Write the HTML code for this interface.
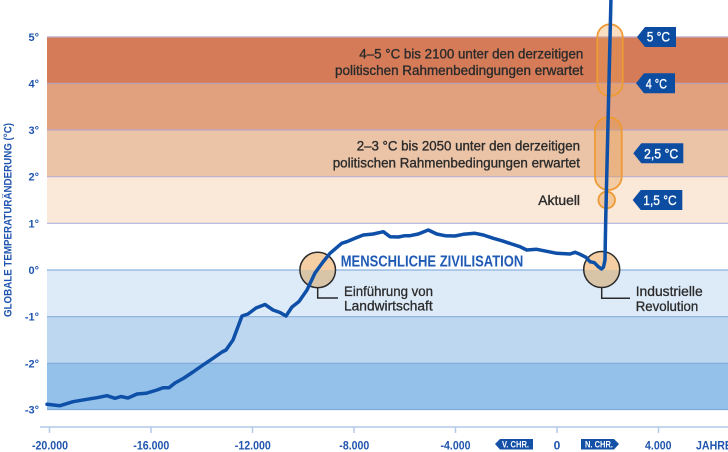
<!DOCTYPE html>
<html><head><meta charset="utf-8"><style>
html,body{margin:0;padding:0;background:#fff;}
svg{display:block;}
text{font-family:"Liberation Sans","DejaVu Sans",sans-serif;}
</style></head><body>
<svg width="728" height="452" viewBox="0 0 728 452" xmlns="http://www.w3.org/2000/svg">
<rect x="0" y="0" width="728" height="452" fill="#fff"/>
<!-- bands -->
<rect x="47" y="37" width="681" height="46.3" fill="#D57B58"/>
<rect x="47" y="83.3" width="681" height="46.7" fill="#E1A07E"/>
<rect x="47" y="130" width="681" height="46.7" fill="#EBC4A7"/>
<rect x="47" y="176.7" width="681" height="46.6" fill="#FAE8D8"/>
<rect x="47" y="270" width="681" height="46.7" fill="#DDEAF8"/>
<rect x="47" y="316.7" width="681" height="46.6" fill="#BDD7F1"/>
<rect x="47" y="363.3" width="681" height="46.2" fill="#94C1E9"/>
<g stroke-width="1.2">
<line x1="47" y1="37" x2="728" y2="37" stroke="#B9A6C8"/>
<line x1="47" y1="83.3" x2="728" y2="83.3" stroke="#B9A0BE"/>
<line x1="47" y1="130" x2="728" y2="130" stroke="#BBA8C8"/>
<line x1="47" y1="176.7" x2="728" y2="176.7" stroke="#BCB0D2"/>
<line x1="47" y1="223.3" x2="728" y2="223.3" stroke="#B0B4DE"/>
<line x1="47" y1="270" x2="728" y2="270" stroke="#8DB2E0"/>
<line x1="47" y1="316.7" x2="728" y2="316.7" stroke="#86AEDD"/>
<line x1="47" y1="363.3" x2="728" y2="363.3" stroke="#7EA9DB"/>
<line x1="47" y1="409.5" x2="728" y2="409.5" stroke="#7EA9DB"/>
</g>
<!-- y labels -->
<g font-size="11" font-weight="bold" fill="#1F55AE" text-anchor="end">
<text x="39" y="41">5°</text>
<text x="39" y="87.5">4°</text>
<text x="39" y="134">3°</text>
<text x="39" y="180.7">2°</text>
<text x="39" y="227.3">1°</text>
<text x="39" y="274">0°</text>
<text x="39" y="320.7">-1°</text>
<text x="39" y="367.3">-2°</text>
<text x="39" y="413.5">-3°</text>
</g>
<text transform="translate(11.5,220) rotate(-90)" text-anchor="middle" font-size="11" font-weight="bold" fill="#1F55AE" textLength="194" lengthAdjust="spacingAndGlyphs">GLOBALE TEMPERATURÄNDERUNG (°C)</text>
<!-- x axis -->
<line x1="40" y1="427" x2="728" y2="427" stroke="#B3C9E8" stroke-width="1.5"/>
<g stroke="#B3C9E8" stroke-width="1.5">
<line x1="49.5" y1="427" x2="49.5" y2="433"/>
<line x1="151" y1="427" x2="151" y2="433"/>
<line x1="252.5" y1="427" x2="252.5" y2="433"/>
<line x1="354" y1="427" x2="354" y2="433"/>
<line x1="455.5" y1="427" x2="455.5" y2="433"/>
<line x1="557" y1="427" x2="557" y2="433"/>
<line x1="658.5" y1="427" x2="658.5" y2="433"/>
</g>
<g font-size="12" font-weight="bold" fill="#1F55AE" text-anchor="middle">
<text x="50" y="449.5" textLength="36" lengthAdjust="spacingAndGlyphs">-20.000</text>
<text x="151.3" y="449.5" textLength="36" lengthAdjust="spacingAndGlyphs">-16.000</text>
<text x="252.8" y="449.5" textLength="36" lengthAdjust="spacingAndGlyphs">-12.000</text>
<text x="354.3" y="449.5" textLength="30" lengthAdjust="spacingAndGlyphs">-8.000</text>
<text x="455.5" y="449.5" textLength="30" lengthAdjust="spacingAndGlyphs">-4.000</text>
<text x="557" y="449.5">0</text>
<text x="658.3" y="449.5" textLength="26.5" lengthAdjust="spacingAndGlyphs">4.000</text>
<text x="696" y="449.5" text-anchor="start" textLength="36" lengthAdjust="spacingAndGlyphs">JAHRE</text>
</g>
<polygon points="495,444 500,439 533,439 533,449.5 500,449.5" fill="#1450A6"/>
<polygon points="581,439 614,439 619,444 614,449.5 581,449.5" fill="#1450A6"/>
<g font-size="9" font-weight="bold" fill="#fff" text-anchor="middle">
<text x="515.5" y="447.5" textLength="27" lengthAdjust="spacingAndGlyphs">V. CHR.</text>
<text x="599" y="447.5" textLength="28" lengthAdjust="spacingAndGlyphs">N. CHR.</text>
</g>
<!-- annotation circles -->
<defs>
<clipPath id="up"><rect x="0" y="0" width="728" height="270"/></clipPath>
<clipPath id="dn"><rect x="0" y="270" width="728" height="182"/></clipPath>
</defs>
<g>
<circle cx="317.7" cy="270" r="17.8" fill="#F5CFA3" clip-path="url(#up)"/>
<circle cx="317.7" cy="270" r="17.8" fill="#D8C5A8" clip-path="url(#dn)"/>
<circle cx="317.7" cy="270" r="17.8" fill="none" stroke="#2A2A2A" stroke-width="1.5"/>
<polyline points="317.7,287.8 317.7,298 338,298" fill="none" stroke="#2A2A2A" stroke-width="1.5"/>
<circle cx="601.7" cy="269.5" r="18" fill="#F5CFA3" clip-path="url(#up)"/>
<circle cx="601.7" cy="269.5" r="18" fill="#D8C5A8" clip-path="url(#dn)"/>
<circle cx="601.7" cy="269.5" r="18" fill="none" stroke="#2A2A2A" stroke-width="1.5"/>
<polyline points="601.7,287.5 601.7,298.3 630,298.3" fill="none" stroke="#2A2A2A" stroke-width="1.5"/>
</g>
<!-- capsules -->
<rect x="597.3" y="24.3" width="25.4" height="71.7" rx="12.7" fill="rgba(238,160,80,0.35)" stroke="#EE9B35" stroke-width="1.8"/>
<rect x="595" y="117.3" width="26.7" height="72.7" rx="13.3" fill="rgba(230,150,70,0.35)" stroke="#EE9B35" stroke-width="1.8"/>
<circle cx="606.7" cy="200" r="8.3" fill="rgba(238,160,80,0.45)" stroke="#EE9B35" stroke-width="1.8"/>
<!-- curve -->
<polyline fill="none" stroke="#0E4FA8" stroke-width="3.5" stroke-linejoin="round" stroke-linecap="round" points="47,404.3 60,405.7 73,401.7 87,399.3 97,397.7 107,395.7 115,398.3 121,396.5 128,398 137,394 146,393.3 157,390 163,387.7 169,387.7 175,383 184,378 193,372 203,365 213,358.3 222,352 226,350 233,340 242,316 248,314 256,308 265,304.5 273,310 280,312.5 286,316 292,307 299,301.5 307,290 315,273 323,262 330,253.3 341.7,243.3 346.7,241.7 355,238.3 363.3,235 373.3,234 383.3,231.7 390,236.7 398.3,237 405,235.7 410,235.7 418.3,234 428.3,230 436.7,234 445,235.7 455,236 463.3,234.3 475,233.3 483.3,235 493.3,238.3 501.7,240.7 511.7,244 520,246.7 526.7,250 536.7,249.3 546.7,251.3 556.7,253.3 570,254 575,252.3 580,254.3 586,257.3 590,261.7 594.3,262.7 598.3,266.7 601.5,269 603.5,267 605,260 605.7,220 611,-3"/>
<!-- tags -->
<g fill="#0C4DA2">
<polygon points="637,37 645,27 676,27 676,47 645,47"/>
<polygon points="636,83.3 644,73.3 675,73.3 675,93.3 644,93.3"/>
<polygon points="633.3,153.3 641.3,143.3 683.3,143.3 683.3,163.3 641.3,163.3"/>
<polygon points="632.7,200 640.7,190 682.3,190 682.3,210 640.7,210"/>
</g>
<g font-size="14" fill="#fff" stroke="#fff" stroke-width="0.35">
<text x="646.7" y="41.7" textLength="23.3" lengthAdjust="spacingAndGlyphs">5 °C</text>
<text x="645.7" y="88.3" textLength="21.3" lengthAdjust="spacingAndGlyphs">4 °C</text>
<text x="644" y="158.3" textLength="34.3" lengthAdjust="spacingAndGlyphs">2,5 °C</text>
<text x="643.3" y="205" textLength="33.4" lengthAdjust="spacingAndGlyphs">1,5 °C</text>
</g>
<!-- band texts -->
<g font-size="14" fill="#2B2B2B" stroke="#2B2B2B" stroke-width="0.35" text-anchor="end">
<text x="583.3" y="58.3" textLength="224" lengthAdjust="spacingAndGlyphs">4–5 °C bis 2100 unter den derzeitigen</text>
<text x="583.3" y="75" textLength="248.3" lengthAdjust="spacingAndGlyphs">politischen Rahmenbedingungen erwartet</text>
<text x="580" y="150.7" textLength="223.3" lengthAdjust="spacingAndGlyphs">2–3 °C bis 2050 unter den derzeitigen</text>
<text x="580" y="167.3" textLength="247.3" lengthAdjust="spacingAndGlyphs">politischen Rahmenbedingungen erwartet</text>
<text x="580" y="205" textLength="41.7" lengthAdjust="spacingAndGlyphs">Aktuell</text>
</g>
<text x="340.7" y="266.5" font-size="16" font-weight="bold" fill="#1F5BB5" textLength="182.6" lengthAdjust="spacingAndGlyphs">MENSCHLICHE ZIVILISATION</text>
<g font-size="14" fill="#2B2B2B" stroke="#2B2B2B" stroke-width="0.3">
<text x="344" y="296" textLength="89" lengthAdjust="spacingAndGlyphs">Einführung von</text>
<text x="344" y="310.5" textLength="88.7" lengthAdjust="spacingAndGlyphs">Landwirtschaft</text>
<text x="635.7" y="296" textLength="67" lengthAdjust="spacingAndGlyphs">Industrielle</text>
<text x="635.7" y="311" textLength="62.6" lengthAdjust="spacingAndGlyphs">Revolution</text>
</g>
</svg>
</body></html>
